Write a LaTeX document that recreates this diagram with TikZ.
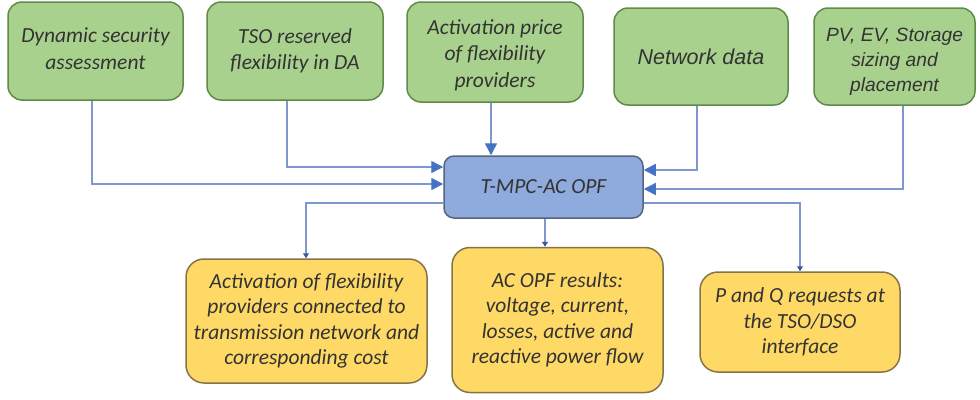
\documentclass[tikz,border=0pt]{standalone}
\usepackage{fontspec}
\setmainfont{Carlito}
\newfontfamily\arialfont{Liberation Sans}
\usetikzlibrary{arrows.meta}

\definecolor{inFill}{HTML}{A9D18E}
\definecolor{inLine}{HTML}{5F8A48}
\definecolor{coreFill}{HTML}{8FAADC}
\definecolor{coreLine}{HTML}{56657F}
\definecolor{outFill}{HTML}{FFD966}
\definecolor{outLine}{HTML}{857449}
\definecolor{wire}{HTML}{7E98CE}
\definecolor{tip}{HTML}{4472C4}
\definecolor{ink}{HTML}{333333}

\tikzset{
  box/.style={rectangle, rounded corners=14pt, line width=1.5pt, align=center,
    text=ink, inner sep=2pt, font=\fontsize{21.5}{26.5}\selectfont\itshape},
  inbox/.style={box, fill=inFill, draw=inLine},
  corebox/.style={box, fill=coreFill, draw=coreLine, rounded corners=10pt,
    font=\fontsize{21.5}{26}\selectfont\itshape},
  outbox/.style={box, fill=outFill, draw=outLine, rounded corners=18pt,
    font=\fontsize{21.5}{25.5}\selectfont\itshape},
  % text placed inside a box, slightly off its centre
  inset/.style={align=center, text=ink, inner sep=0pt,
    font=\fontsize{21.5}{26.5}\selectfont\itshape},
  feed/.style={draw=wire, line width=1.4pt,
    -{Triangle[length=12pt,width=12pt,color=tip]}},
  result/.style={draw=wire, line width=1.4pt,
    -{Triangle[length=5pt,width=6pt,color=tip!80!black]}},
}

\begin{document}
\begin{tikzpicture}[x=1pt,y=-1pt]
  \useasboundingbox (0,0) rectangle (980,399);

  % input boxes
  \node[inbox, minimum width=175pt, minimum height=98pt,
    label={[inset, yshift=2.5pt]center:Dynamic security\\assessment}] (dsa) at (95.5,51) {};
  \node[inbox, minimum width=176pt, minimum height=98pt] (tso) at (295,51)
    {TSO reserved\\flexibility in DA};
  \node[inbox, minimum width=176pt, minimum height=100pt,
    label={[inset, yshift=-3pt]center:Activation price\\of flexibility\\providers}] (price) at (495,52) {};
  \node[inbox, minimum width=174pt, minimum height=97pt, font=\fontsize{21.5}{25}\selectfont\arialfont\itshape]
    (net) at (701,56.5) {Network data};
  \node[inbox, minimum width=161pt, minimum height=97pt,
    label={[inset, yshift=-5pt, font=\fontsize{19.2}{25}\selectfont\arialfont\itshape]center:PV, EV, Storage\\sizing and\\placement}]
    (pv) at (894.5,56.5) {};

  % central optimisation block
  \node[corebox, minimum width=199pt, minimum height=62pt] (opf) at (543.5,187)
    {T-MPC-AC OPF};

  % output boxes
  \node[outbox, minimum width=241pt, minimum height=124pt] (act) at (306.5,321)
    {Activation of flexibility\\providers connected to\\transmission network and\\corresponding cost};
  \node[outbox, minimum width=211pt, minimum height=145pt] (res) at (557.5,320)
    {AC OPF results:\\voltage, current,\\losses, active and\\reactive power flow};
  \node[outbox, minimum width=200pt, minimum height=100pt] (pq) at (800,322)
    {P and Q requests at\\the TSO/DSO\\interface};

  % inputs into the OPF block
  \draw[feed] (dsa.south -| 92,0) |- (opf.west |- 0,184);
  \draw[feed] (tso.south -| 287,0) |- (opf.west |- 0,167);
  \draw[feed] (price.south -| 491,0) -- (opf.north -| 491,0);
  \draw[feed] (net.south -| 697,0) |- (opf.east |- 0,170);
  \draw[feed] (pv.south -| 903,0) |- (opf.east |- 0,189);

  % results out of the OPF block
  \draw[result] (opf.west |- 0,203) -| (act.north -| 306,0);
  \draw[result] (opf.south -| 545,0) -- (res.north -| 545,0);
  \draw[result] (opf.east |- 0,203) -| (pq.north -| 800,0);
\end{tikzpicture}
\end{document}
